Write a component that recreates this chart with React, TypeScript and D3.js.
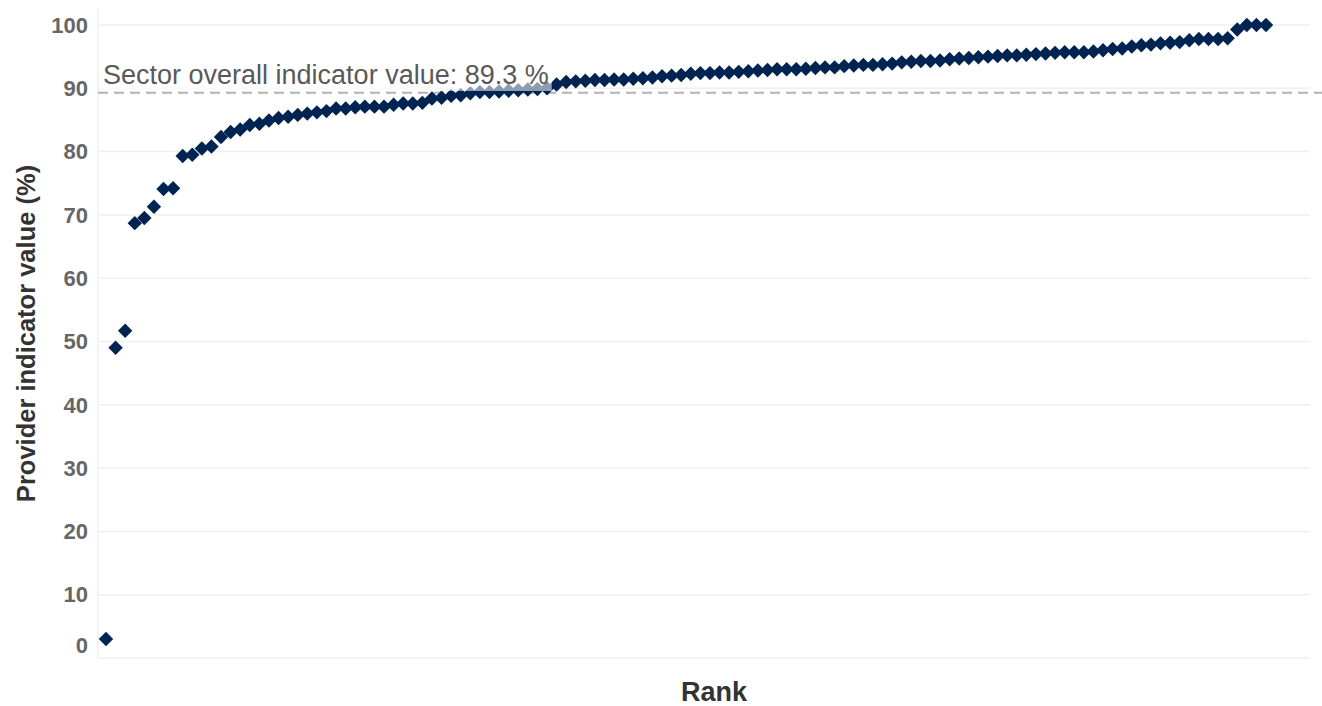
import React, { useEffect, useRef } from 'react';
import * as d3 from 'd3';

// provider values sorted ascending (%)
const providerValues: number[] = [
  3.0, 49.0, 51.7, 68.7, 69.5, 71.3, 74.1, 74.2, 79.3, 79.5, 80.5, 80.8,
  82.3, 83.1, 83.5, 84.2, 84.4, 84.9, 85.3, 85.5, 85.8, 86.0, 86.2, 86.4,
  86.8, 86.8, 87.0, 87.1, 87.1, 87.1, 87.4, 87.6, 87.6, 87.7, 88.4, 88.5,
  88.8, 88.9, 89.2, 89.4, 89.4, 89.5, 89.6, 89.7, 89.8, 89.9, 90.0, 90.6,
  91.0, 91.1, 91.2, 91.3, 91.3, 91.4, 91.4, 91.5, 91.6, 91.7, 91.9, 92.0,
  92.1, 92.3, 92.4, 92.4, 92.5, 92.5, 92.6, 92.7, 92.8, 92.9, 93.0, 93.0,
  93.0, 93.1, 93.2, 93.3, 93.3, 93.5, 93.6, 93.7, 93.7, 93.8, 93.9, 94.1,
  94.2, 94.3, 94.3, 94.4, 94.6, 94.7, 94.8, 94.9, 95.0, 95.1, 95.2, 95.2,
  95.3, 95.4, 95.5, 95.6, 95.7, 95.7, 95.7, 95.8, 96.0, 96.2, 96.3, 96.6,
  96.8, 96.9, 97.1, 97.2, 97.3, 97.6, 97.8, 97.8, 97.8, 97.9, 99.3, 100,
  100, 100,
];

const yTicks: number[] = [0, 10, 20, 30, 40, 50, 60, 70, 80, 90, 100];
const sectorValue = 89.3;
const sectorLabel = `Sector overall indicator value: ${sectorValue} %`;
const yTitle = 'Provider indicator value (%)';
const xTitle = 'Rank';

const WIDTH = 1322;
const HEIGHT = 706;

export default function App() {
  const svgRef = useRef<SVGSVGElement>(null);

  useEffect(() => {
    if (!svgRef.current) return;
    const svg = d3.select(svgRef.current);
    svg.selectAll('*').remove();

    const plot = { left: 98, right: 1310, top: 25, bottom: 658 };
    const ranks = providerValues.map((_, i) => i + 1);

    const x = d3.scalePoint<number>()
      .domain(ranks)
      .range([106, 1266]);

    const y = d3.scaleLinear()
      .domain([0, 100])
      .range([plot.bottom, plot.top]);

    const font = "'Liberation Sans', Arial, sans-serif";

    // grid lines
    svg.append('g')
      .selectAll('line')
      .data(yTicks)
      .enter()
      .append('line')
      .attr('x1', plot.left)
      .attr('x2', plot.right)
      .attr('y1', d => y(d))
      .attr('y2', d => y(d))
      .attr('stroke', '#efefef')
      .attr('stroke-width', 1.5);

    svg.append('line')
      .attr('x1', plot.left)
      .attr('x2', plot.left)
      .attr('y1', 8)
      .attr('y2', plot.bottom)
      .attr('stroke', '#efefef')
      .attr('stroke-width', 1.5);

    // y tick labels
    svg.append('g')
      .selectAll('text')
      .data(yTicks)
      .enter()
      .append('text')
      .attr('x', 88)
      .attr('y', d => y(d) + (d === 0 ? -13 : 0))
      .attr('dy', '0.35em')
      .attr('text-anchor', 'end')
      .attr('font-family', font)
      .attr('font-weight', 'bold')
      .attr('font-size', 22)
      .attr('fill', '#666666')
      .text(d => d);

    // sector reference line
    svg.append('line')
      .attr('x1', plot.left)
      .attr('x2', 1322)
      .attr('y1', y(sectorValue))
      .attr('y2', y(sectorValue))
      .attr('stroke', '#b3b3b3')
      .attr('stroke-width', 2)
      .attr('stroke-dasharray', '10,6');

    // points (diamonds)
    const diamond = d3.symbol().type(d3.symbolSquare).size(104)();
    svg.append('g')
      .selectAll('path')
      .data(providerValues)
      .enter()
      .append('path')
      .attr('d', diamond)
      .attr('transform', (d, i) => `translate(${x(ranks[i])},${y(d)}) rotate(45)`)
      .attr('fill', '#002452');

    // label with translucent background
    const label = svg.append('g');
    const bg = label.append('rect')
      .attr('fill', '#ffffff')
      .attr('fill-opacity', 0.55);
    const txt = label.append('text')
      .attr('x', 103)
      .attr('y', 84)
      .attr('font-family', font)
      .attr('font-size', 27)
      .attr('fill', '#595959')
      .text(sectorLabel);
    const bb = (txt.node() as SVGTextElement).getBBox();
    bg.attr('x', bb.x - 3)
      .attr('y', bb.y + 3)
      .attr('width', bb.width + 6)
      .attr('height', bb.height - 2);

    // axis titles
    svg.append('text')
      .attr('transform', `translate(35,${(plot.top + plot.bottom) / 2 - 8}) rotate(-90)`)
      .attr('text-anchor', 'middle')
      .attr('font-family', font)
      .attr('font-weight', 'bold')
      .attr('font-size', 25.5)
      .attr('fill', '#333333')
      .text(yTitle);

    svg.append('text')
      .attr('x', 714)
      .attr('y', 701)
      .attr('text-anchor', 'middle')
      .attr('font-family', font)
      .attr('font-weight', 'bold')
      .attr('font-size', 27)
      .attr('fill', '#333333')
      .text(xTitle);
  }, []);

  return (
    <svg
      ref={svgRef}
      width={WIDTH}
      height={HEIGHT}
      style={{ position: 'absolute', left: 0, top: 0, background: '#ffffff' }}
    />
  );
}
